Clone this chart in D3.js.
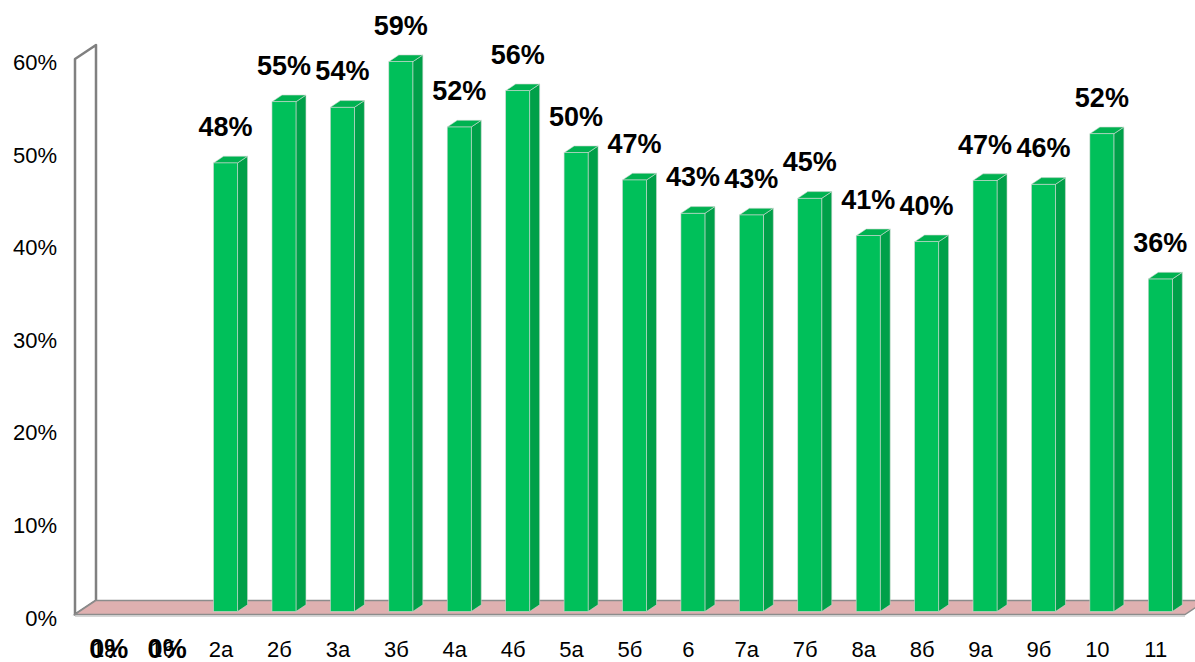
<!DOCTYPE html>
<html><head><meta charset="utf-8">
<script src="https://cdn.jsdelivr.net/npm/d3@7/dist/d3.min.js"></script>
<style>html,body{margin:0;padding:0;background:#fff;}svg{display:block;}</style>
</head><body>
<script>
const categories = ["1а","1б","2а","2б","3а","3б","4а","4б","5а","5б","6","7а","7б","8а","8б","9а","9б","10","11"];
const values = [0,0,0.4845,0.5506,0.5446,0.5939,0.5233,0.5625,0.4956,0.4661,0.4301,0.4283,0.4463,0.4059,0.3994,0.4655,0.4614,0.5160,0.3591];
const yTicks = [0,0.1,0.2,0.3,0.4,0.5,0.6];

const W = 1195, H = 662;
const svg = d3.select("body").append("svg").attr("width", W).attr("height", H);
const font = "'Liberation Sans', Arial, sans-serif";

// front plane scales
const x = d3.scaleBand().domain(categories).range([75, 1185]).padding(0);
const y = d3.scaleLinear().domain([0, 0.6]).range([614.5, 59]);

// depth offsets
const wallDX = 21, wallDY = -14;     // full depth of wall/floor
const barPX = 4.5, barPY = -3;       // bar front plane offset
const barW = 24, sideDX = 10, sideDY = -6.7;

// wall
const wallPts = [[75, y(0)], [75, y(0.6)], [75 + wallDX, y(0.6) + wallDY], [75 + wallDX, y(0) + wallDY]];
svg.append("polygon").attr("points", wallPts.map(p => p.join(",")).join(" "))
  .attr("fill", "#ffffff").attr("stroke", "#808080").attr("stroke-width", 2.5).attr("stroke-linejoin", "round");

// floor
const floorPts = [[75, y(0)], [1185, y(0)], [1185 + wallDX, y(0) + wallDY], [75 + wallDX, y(0) + wallDY]];
svg.append("polygon").attr("points", floorPts.map(p => p.join(",")).join(" "))
  .attr("fill", "#dfb0b0").attr("stroke", "#8c8c8c").attr("stroke-width", 1.5);
svg.append("line").attr("x1", 75).attr("x2", 1185).attr("y1", y(0) + 1.5).attr("y2", y(0) + 1.5)
  .attr("stroke", "#c8c8c8").attr("stroke-width", 1.5);

// bars
const g = svg.append("g");
categories.forEach((c, i) => {
  const v = values[i];
  if (v <= 0) return;
  const cx = x(c) + x.bandwidth() / 2 + barPX;
  const x0 = cx - barW / 2, x1 = cx + barW / 2;
  const yb = y(0) + barPY, yt = y(v) + barPY;
  const pts = a => a.map(p => p.join(",")).join(" ");
  g.append("polygon").attr("points", pts([[x1, yb], [x1, yt], [x1 + sideDX, yt + sideDY], [x1 + sideDX, yb + sideDY]]))
    .attr("fill", "#00a049").attr("stroke", "#cfd8d2").attr("stroke-width", 0.6);
  g.append("polygon").attr("points", pts([[x0, yt], [x0 + sideDX, yt + sideDY], [x1 + sideDX, yt + sideDY], [x1, yt]]))
    .attr("fill", "#00b251").attr("stroke", "#cfd8d2").attr("stroke-width", 0.6);
  g.append("rect").attr("x", x0).attr("y", yt).attr("width", barW).attr("height", yb - yt)
    .attr("fill", "#00c05a").attr("stroke", "#cfd8d2").attr("stroke-width", 0.6);
});

// y tick labels
svg.append("g").selectAll("text").data(yTicks).join("text")
  .attr("x", 57).attr("y", d => y(d) + 11)
  .attr("text-anchor", "end").attr("font-family", font).attr("font-size", 22).attr("fill", "#000")
  .text(d => d3.format(".0%")(d));

// category labels
svg.append("g").selectAll("text").data(categories).join("text")
  .attr("x", d => x(d) + x.bandwidth() / 2).attr("y", 657)
  .attr("text-anchor", "middle").attr("font-family", font).attr("font-size", 22).attr("fill", "#000")
  .text(d => d);

// value labels
svg.append("g").selectAll("text").data(categories).join("text")
  .attr("x", d => x(d) + x.bandwidth() / 2 + barPX)
  .attr("y", (d, i) => values[i] > 0 ? y(values[i]) + barPY - 27 : 658)
  .attr("text-anchor", "middle").attr("font-family", font).attr("font-weight", "bold")
  .attr("font-size", 27).attr("fill", "#000")
  .text((d, i) => d3.format(".0%")(values[i]));
</script>
</body></html>
